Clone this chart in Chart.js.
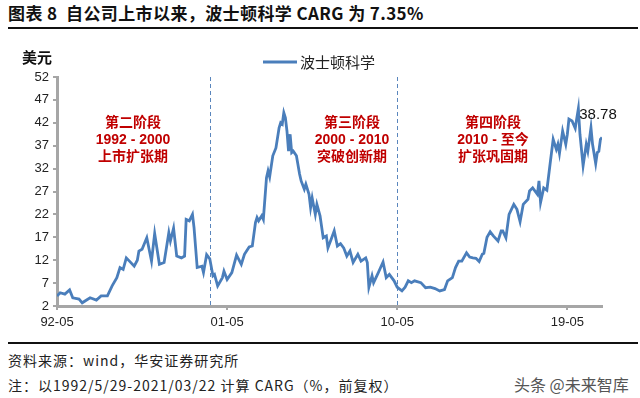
<!DOCTYPE html>
<html>
<head>
<meta charset="utf-8">
<script src="https://cdn.jsdelivr.net/npm/chart.js@4/dist/chart.umd.min.js"></script>
<style>
  body { margin: 0; width: 640px; height: 398px; background: #fff; position: relative; overflow: hidden;
         font-family: "Noto Sans CJK SC", sans-serif; color: #111; }
  #title { position: absolute; left: 8px; top: 3px; font-size: 17px; font-weight: bold; white-space: nowrap; line-height: 20px; letter-spacing: 0.4px; }
  .rule { position: absolute; left: 8px; width: 630px; height: 2px; background: #111; }
  #wrap { position: absolute; left: 0; top: 0; width: 640px; height: 340px; }
  #unit { position: absolute; left: 22px; top: 48px; font-size: 15px; font-weight: bold; line-height: 18px; }
  .phase { position: absolute; width: 120px; text-align: center; color: #c00000; font-weight: bold;
           font-size: 14px; line-height: 17px; font-family: "Liberation Sans", "Noto Sans CJK SC", sans-serif; }
  .foot { position: absolute; left: 8px; font-size: 14px; color: #222; white-space: nowrap; line-height: 18px; letter-spacing: 1px; }
  #mark { position: absolute; left: 514px; top: 374px; font-size: 16px; color: #555; white-space: nowrap; line-height: 20px; }
</style>
</head>
<body>
<div id="title">图表 8&nbsp; 自公司上市以来，波士顿科学 CARG 为 7.35%</div>
<div class="rule" style="top:27px"></div>
<div id="wrap"><canvas id="chart"></canvas></div>
<div id="unit">美元</div>
<div class="phase" style="left:73px;top:114px">第二阶段<br>1992 - 2000<br>上市扩张期</div>
<div class="phase" style="left:292px;top:114px">第三阶段<br>2000 - 2010<br>突破创新期</div>
<div class="phase" style="left:433px;top:114px">第四阶段<br>2010 - 至今<br>扩张巩固期</div>
<div class="rule" style="top:342px"></div>
<div class="foot" style="top:351px">资料来源：wind，华安证券研究所</div>
<div class="foot" style="top:376px">注：以1992/5/29-2021/03/22 计算 CARG（%，前复权）</div>
<div id="mark">头条 @未来智库</div>
<script>
// --- Data ---
const dates = [
  '1992-05','1992-07','1992-10','1993-01','1993-03','1993-07','1993-09','1994-02','1994-06','1994-09',
  '1995-01','1995-04','1995-07','1995-09','1995-11','1996-01','1996-03','1996-06','1996-08','1996-09',
  '1996-11','1997-02','1997-05','1997-07','1997-10','1998-01','1998-04','1998-05','1998-07','1998-09',
  '1998-12','1999-02','1999-03','1999-05','1999-07','1999-08','1999-10','2000-01','2000-02','2000-04',
  '2000-06','2000-08','2000-09','2000-11','2001-02','2001-03','2001-05','2001-08','2001-11','2002-02',
  '2002-04','2002-07','2002-09','2002-11','2002-12','2003-01','2003-03','2003-04','2003-06','2003-07',
  '2003-08','2003-10','2003-12','2004-02','2004-03','2004-04','2004-05','2004-06','2004-07','2004-08',
  '2004-09','2004-10','2004-11','2005-01','2005-03','2005-04','2005-06','2005-07','2005-09','2005-10',
  '2005-11','2006-01','2006-02','2006-04','2006-06','2006-08','2006-09','2006-11','2007-01','2007-03',
  '2007-05','2007-07','2007-09','2007-11','2008-01','2008-04','2008-06','2008-09','2008-10','2008-11',
  '2009-01','2009-02','2009-05','2009-08','2009-10','2009-12','2010-03','2010-05','2010-08','2010-10',
  '2010-12','2011-02','2011-04','2011-08','2011-11','2012-02','2012-05','2012-08','2012-11','2013-01',
  '2013-04','2013-06','2013-08','2013-10','2014-01','2014-03','2014-05','2014-07','2014-09','2014-11',
  '2014-12','2015-02','2015-04','2015-06','2015-09','2015-11','2015-12','2016-02','2016-04','2016-07',
  '2016-09','2016-11','2017-01','2017-04','2017-05','2017-07','2017-10','2017-11','2017-12','2018-02',
  '2018-04','2018-06','2018-08','2018-10','2018-11','2018-12','2019-02','2019-04','2019-05','2019-06',
  '2019-08','2019-10','2019-11','2019-12','2020-01','2020-03','2020-05','2020-06','2020-08','2020-09',
  '2020-11','2020-12','2021-01','2021-02','2021-03'
];
const prices = [
  4.2, 4.9, 4.6, 5.5, 3.8, 3.5, 2.7, 3.8, 3.3, 4.2,
  4.2, 6.4, 8.2, 10.4, 10.0, 12.5, 11.8, 10.7, 12.0, 14.0,
  14.4, 16.9, 11.8, 17.8, 11.1, 11.5, 18.0, 16.2, 19.0, 12.9,
  12.5, 12.9, 20.9, 20.6, 22.0, 19.1, 10.4, 10.7, 9.3, 13.2,
  12.3, 8.6, 8.9, 6.4, 8.2, 9.6, 7.8, 9.3, 13.1, 11.1,
  13.3, 14.9, 15.1, 20.2, 21.3, 20.6, 21.7, 20.9, 30.0, 31.5,
  30.2, 34.8, 36.5, 40.9, 42.0, 41.7, 44.2, 43.1, 40.2, 35.8,
  39.5, 35.5, 35.8, 34.8, 30.8, 29.3, 27.5, 28.6, 26.4, 23.5,
  25.6, 22.0, 24.2, 21.7, 16.9, 17.3, 14.7, 16.5, 18.4, 15.1,
  15.6, 14.7, 12.9, 14.0, 11.5, 13.3, 11.8, 12.5, 11.5, 6.1,
  8.6, 7.1, 9.3, 11.6, 8.2, 8.9, 7.5, 6.1, 5.3, 6.1,
  7.5, 7.1, 7.5, 7.1, 6.0, 6.1, 5.8, 5.3, 5.6, 7.5,
  8.2, 10.4, 11.8, 11.8, 13.6, 12.7, 12.5, 12.4, 11.7, 13.3,
  13.5, 17.0, 18.2, 17.3, 16.2, 18.4, 18.4, 16.9, 22.0, 24.2,
  23.1, 20.4, 24.2, 25.3, 27.1, 27.8, 26.4, 29.3, 24.6, 27.8,
  27.3, 32.9, 38.4, 36.2, 37.3, 35.3, 40.2, 37.3, 39.5, 42.8,
  42.4, 40.8, 43.0, 45.1, 39.5, 32.6, 37.3, 35.8, 40.9, 37.3,
  33.1, 35.5, 35.8, 38.4, 38.78
];
const seriesName = '波士顿科学';
const xTickDates = ['1992-05', '2001-05', '2010-05', '2019-05'];
const yTicks = [2, 7, 12, 17, 22, 27, 32, 37, 42, 47, 52];
const phaseBreaks = ['2000-06', '2010-05'];
const lastValueLabel = '38.78';

const lineColor = '#4a7ebb';
const axisColor = '#a6a6a6';

function monthIndex(s) {
    const [y, m] = s.split('-').map(Number);
    return y * 12 + m - 1;
}

// --- Extra drawing: phase separators, end label, legend ---
const extras = {
    id: 'extras',
    beforeDatasetsDraw(chart) {
        const { ctx, chartArea } = chart;
        const xs = chart.scales.x;
        ctx.save();
        ctx.strokeStyle = '#5a86bd';
        ctx.lineWidth = 1;
        ctx.setLineDash([4, 3]);
        phaseBreaks.forEach(d => {
            const px = Math.round(xs.getPixelForValue(monthIndex(d))) + 0.5;
            ctx.beginPath();
            ctx.moveTo(px, chartArea.top);
            ctx.lineTo(px, chartArea.bottom);
            ctx.stroke();
        });
        ctx.restore();
    },
    afterDatasetsDraw(chart) {
        const { ctx } = chart;
        const pts = chart.getDatasetMeta(0).data;
        const last = pts[pts.length - 1];
        ctx.save();
        ctx.fillStyle = '#111';
        ctx.font = '15px "Liberation Sans", sans-serif';
        ctx.textAlign = 'center';
        ctx.textBaseline = 'middle';
        ctx.fillText(lastValueLabel, last.x - 4, last.y - 23);

        // legend
        const ds = chart.data.datasets[0];
        ctx.strokeStyle = ds.borderColor;
        ctx.lineWidth = ds.borderWidth;
        ctx.beginPath();
        ctx.moveTo(263, 62);
        ctx.lineTo(297, 62);
        ctx.stroke();
        ctx.fillStyle = '#222';
        ctx.font = '15px "Noto Sans CJK SC", sans-serif';
        ctx.textAlign = 'left';
        ctx.fillText(ds.label, 300, 62);
        ctx.restore();
    }
};

const data = dates.map((d, i) => ({ x: monthIndex(d), y: prices[i] }));

new Chart(document.getElementById('chart'), {
    type: 'line',
    data: {
        datasets: [{
            label: seriesName,
            data: data,
            borderColor: lineColor,
            borderWidth: 2.8,
            pointRadius: 0,
            tension: 0,
            fill: false
        }]
    },
    options: {
        responsive: true,
        maintainAspectRatio: false,
        animation: false,
        layout: { padding: { top: 77, right: 38, left: 0, bottom: 0 } },
        plugins: {
            legend: { display: false },
            tooltip: { enabled: false }
        },
        scales: {
            x: {
                type: 'linear',
                min: monthIndex(dates[0]),
                max: monthIndex(dates[dates.length - 1]),
                afterBuildTicks: (scale) => {
                    scale.ticks = xTickDates.map(d => ({ value: monthIndex(d) }));
                },
                afterFit: (scale) => { scale.height = 34; },
                grid: { drawOnChartArea: false, color: axisColor, tickLength: 4, lineWidth: 2 },
                border: { color: axisColor, width: 3 },
                ticks: {
                    color: '#222',
                    font: { family: '"Liberation Sans", sans-serif', size: 13 },
                    padding: 5,
                    maxRotation: 0,
                    autoSkip: false,
                    callback: (v) => {
                        const y = Math.floor(v / 12), m = v % 12 + 1;
                        return String(y).slice(2) + '-' + String(m).padStart(2, '0');
                    }
                }
            },
            y: {
                min: 2,
                max: 52,
                afterBuildTicks: (scale) => {
                    scale.ticks = yTicks.map(v => ({ value: v }));
                },
                afterFit: (scale) => { scale.width = 57; },
                grid: { drawOnChartArea: false, color: axisColor, tickLength: 4, lineWidth: 2 },
                border: { color: axisColor, width: 3 },
                ticks: {
                    color: '#222',
                    font: { family: '"Liberation Sans", sans-serif', size: 13 },
                    padding: 4
                }
            }
        }
    },
    plugins: [extras]
});
</script>
</body>
</html>
